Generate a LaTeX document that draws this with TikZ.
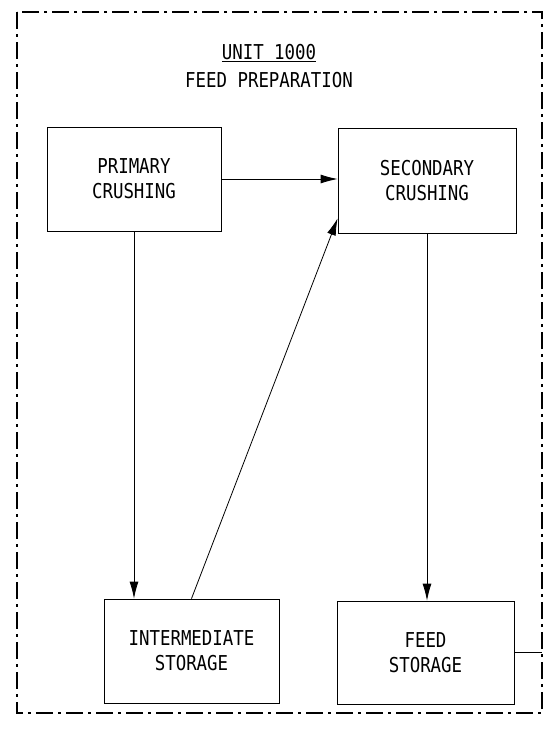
\documentclass[tikz,border=0pt]{standalone}
\usepackage{fontspec}
\usetikzlibrary{arrows.meta}
\newfontfamily\plotfont[FakeStretch=0.85]{DejaVu Sans Mono}
\tikzset{
  unitbox/.style={shape=rectangle, draw=black, line width=0.8pt, align=center,
    inner sep=0pt, font=\plotfont\fontsize{20.5}{25}\selectfont},
  flow/.style={-{Latex[length=17pt,width=9pt]}, line width=0.8pt, draw=black},
  frame/.style={line width=1.5pt, dash pattern=on 17pt off 5pt on 3pt off 5pt}
}
\begin{document}
\begin{tikzpicture}[x=1pt, y=-1pt]
\useasboundingbox (0,0) rectangle (543,734);
\draw[frame] (17,12) rectangle (542,713);
\node[font=\plotfont\fontsize{20.5}{25}\selectfont] (T) at (269,53) {\underline{UNIT 1000}};
\node[font=\plotfont\fontsize{20.5}{25}\selectfont] (N) at (269,80) {FEED PREPARATION};
\node[unitbox, minimum width=174pt, minimum height=104pt] (P) at (134,179) {PRIMARY\\CRUSHING};
\node[unitbox, minimum width=178pt, minimum height=105pt] (S) at (427,180.5) {SECONDARY\\CRUSHING};
\node[unitbox, minimum width=175pt, minimum height=104pt] (I) at (191.5,651) {INTERMEDIATE\\STORAGE};
\node[unitbox, minimum width=177pt, minimum height=103pt] (F) at (425.5,652.5) {FEED\\STORAGE};
\coordinate (E) at (542,652.5);
\path (P.east) edge[flow] (P.east -| S.west);
\path (P.south) edge[flow] (P.south |- I.north);
\path (I.north) edge[flow] ([yshift=15pt]S.south west);
\path (S.south) edge[flow] (S.south |- F.north);
\path (F.east) edge[-, line width=0.8pt, draw=black] (E);
\end{tikzpicture}
\end{document}
